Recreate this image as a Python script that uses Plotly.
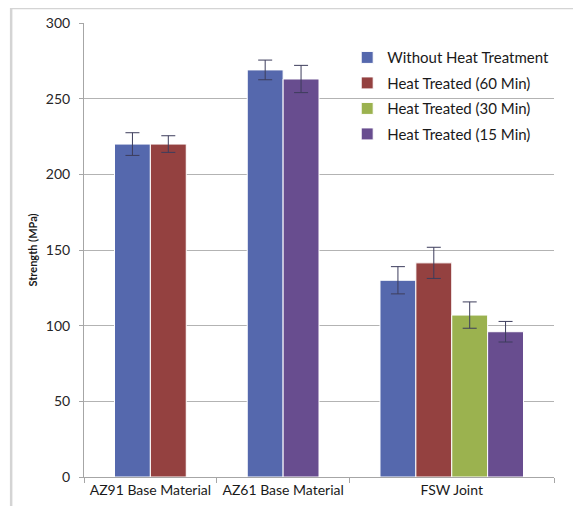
import plotly.graph_objects as go

categories = ["AZ91 Base Material", "AZ61 Base Material", "FSW Joint"]
series_names = ["Without Heat Treatment", "Heat Treated (60 Min)",
                "Heat Treated (30 Min)", "Heat Treated (15 Min)"]
without_ht = [220, 269, 130]
without_ht_err = [7.5, 6.5, 9]
ht_60 = [220, None, 141.5]
ht_60_err = [5.5, None, 10.3]
ht_30 = [None, None, 107]
ht_30_err = [None, None, 8.7]
ht_15 = [None, 263, 96]
ht_15_err = [None, 9, 6.8]
y_ticks = [0, 50, 100, 150, 200, 250, 300]

values = [without_ht, ht_60, ht_30, ht_15]
errors = [without_ht_err, ht_60_err, ht_30_err, ht_15_err]
colors = ["#5568ad", "#944140", "#9bb24f", "#684d8f"]

GAP = 1.7
BAR_W = 1.0

# category extents depend on number of bars present
counts = [sum(1 for v in values if v[i] is not None) for i in range(len(categories))]
bounds = [0.0]
for c in counts:
    bounds.append(bounds[-1] + c * BAR_W + GAP)
centers = [(bounds[i] + bounds[i + 1]) / 2 for i in range(len(categories))]

positions = [[None] * len(categories) for _ in values]
for i in range(len(categories)):
    j = 0
    start = bounds[i] + GAP / 2
    for s, v in enumerate(values):
        if v[i] is not None:
            positions[s][i] = start + j * BAR_W + BAR_W / 2
            j += 1

fig = go.Figure()
for s, name in enumerate(series_names):
    xs = [positions[s][i] for i in range(len(categories)) if values[s][i] is not None]
    ys = [values[s][i] for i in range(len(categories)) if values[s][i] is not None]
    es = [errors[s][i] for i in range(len(categories)) if values[s][i] is not None]
    fig.add_trace(go.Bar(
        x=xs, y=ys, width=BAR_W, name=name, legendgroup=name,
        marker=dict(color=colors[s], line=dict(color="white", width=1)),
        error_y=dict(type="data", array=es, visible=True, color="#3d3d5c",
                     thickness=1, width=7),
    ))

# invisible trace for the boundary-tick axis
fig.add_trace(go.Scatter(x=[bounds[0], bounds[-1]], y=[0, 0], xaxis="x2",
                         mode="markers", marker=dict(opacity=0),
                         showlegend=False, hoverinfo="skip"))

# page body has an 8px default margin, so offset the figure margins
fig.update_layout(
    width=581, height=506,
    margin=dict(l=76, r=35, t=15, b=37, autoexpand=False),
    paper_bgcolor="white", plot_bgcolor="white",
    font=dict(family="Lato", size=14, color="#262626"),
    barmode="overlay",
    showlegend=True,
    legend=dict(x=0.56, y=0.96, xanchor="left", yanchor="top",
                bgcolor="rgba(0,0,0,0)", font=dict(size=15, color="#1a1a1a"),
                traceorder="grouped", tracegroupgap=3, itemwidth=30),
    xaxis=dict(range=[bounds[0], bounds[-1]], tickvals=centers, ticktext=categories,
               ticks="", showgrid=False, showline=True, linecolor="#a6a6a6",
               linewidth=1, zeroline=False, automargin=False,
               tickfont=dict(size=14, color="#1a1a1a")),
    xaxis2=dict(range=[bounds[0], bounds[-1]], overlaying="x", side="bottom",
                tickvals=bounds, showticklabels=False, ticks="outside", ticklen=5,
                tickcolor="#a6a6a6", showgrid=False, showline=False, zeroline=False,
                automargin=False),
    yaxis=dict(range=[0, 300], tickvals=y_ticks, showgrid=True, gridcolor="#b3b3b3",
               gridwidth=1, showline=True, linecolor="#a6a6a6", linewidth=1,
               ticks="outside", ticklen=4, tickcolor="#a6a6a6", zeroline=False,
               ticklabelstandoff=6, automargin=False,
               tickfont=dict(size=14, color="#262626"),
               title=dict(text="<b>Strength (MPa)</b>", font=dict(size=11, color="#1a1a1a"),
                          standoff=5)),
    shapes=[
        dict(type="line", xref="paper", yref="paper", x0=-0.155, x1=1.2,
             y0=1.033, y1=1.033, line=dict(color="#d4d4d4", width=2.5)),
        dict(type="line", xref="paper", yref="paper", x0=-0.155, x1=-0.155,
             y0=1.033, y1=-0.2, line=dict(color="#d4d4d4", width=2.5)),
    ],
)

fig.write_html("out.html")
